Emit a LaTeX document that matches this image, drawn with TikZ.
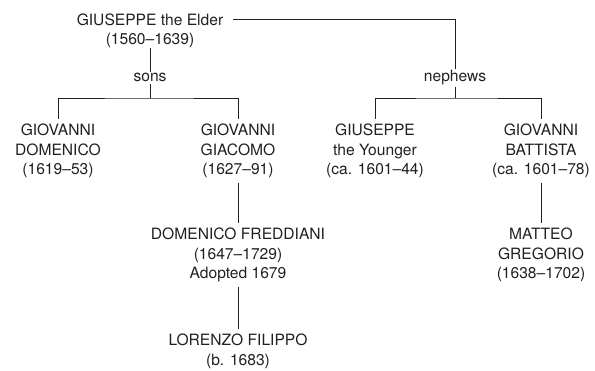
\documentclass[tikz,border=0pt]{standalone}
\usepackage{fontspec}
\setmainfont{TeX Gyre Heros}
\definecolor{ink}{HTML}{231F20}
\begin{document}
\begin{tikzpicture}[x=1pt,y=-1pt,
  base/.style={font=\fontsize{15.6}{19.5}\selectfont, align=center, text=ink, inner xsep=0pt},
  person/.style={base, inner ysep=5pt, anchor=north},
  rel/.style={base, inner ysep=1.5pt, anchor=base},
  link/.style={draw=ink, line width=0.75pt}]
\useasboundingbox (0,0) rectangle (595,371);
% people
\node[person, inner ysep=0pt] (elder) at (150,13.5) {GIUSEPPE the Elder\\(1560--1639)};
\node[person] (gd) at (58,119) {GIOVANNI\\DOMENICO\\(1619--53)};
\node[person] (gg) at (238,119) {GIOVANNI\\GIACOMO\\(1627--91)};
\node[person] (gy) at (375,119) {GIUSEPPE\\the Younger\\(ca. 1601--44)};
\node[person] (gb) at (541,119) {GIOVANNI\\BATTISTA\\(ca. 1601--78)};
\node[person] (df) at (238,223) {DOMENICO FREDDIANI\\(1647--1729)\\Adopted 1679};
\node[person] (lf) at (238,329) {LORENZO FILIPPO\\(b. 1683)};
\node[person] (mg) at (541,223) {MATTEO\\GREGORIO\\(1638--1702)};
% relation labels
\node[rel] (sons) at (150,82) {sons};
\node[rel] (nephews) at (455,82) {nephews};
\coordinate (sbar) at (150,98);
\coordinate (nbar) at (455,98);
% connectors
\draw[link] (elder.south) -- (sons.north);
\draw[link] (sons.south) -- (sbar);
\draw[link] (gd.north) |- (sbar) -| (gg.north);
\draw[link] ([shift={(10,5.5)}]elder.north east) -| (nephews.north);
\draw[link] (nephews.south) -- (nbar);
\draw[link] (gy.north) |- (nbar) -| (gb.north);
\draw[link] (gg.south) -- (df.north);
\draw[link] (df.south) -- (lf.north);
\draw[link] (gb.south) -- (mg.north);
\end{tikzpicture}
\end{document}
